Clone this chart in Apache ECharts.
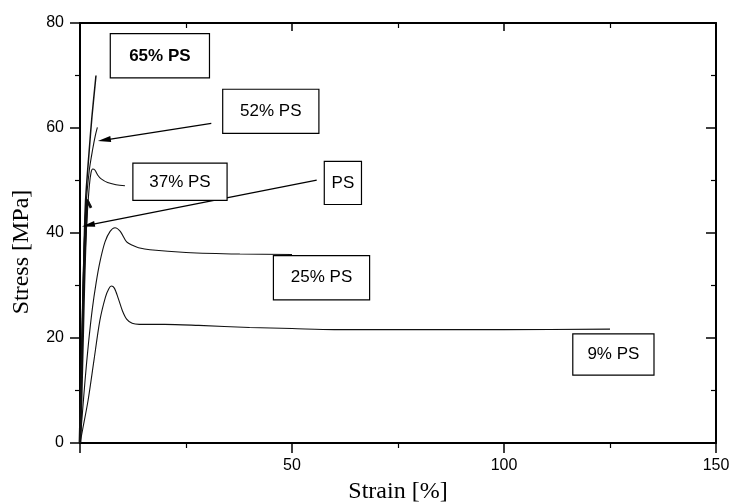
<!DOCTYPE html>
<html>
<head>
<meta charset="utf-8">
<script src="https://cdn.jsdelivr.net/npm/echarts@6/dist/echarts.min.js"></script>
<style>
html,body{margin:0;padding:0;background:#fff;}
#chart{width:732px;height:504px;}
</style>
</head>
<body>
<div id="chart"></div>
<script>
// ---- Data (strain [%], stress [MPa]) ----
const strain9  = [0, 0.6, 1.9, 3.3, 4.7, 6.0, 6.8, 7.4, 8.1, 9.0, 10.0, 11.0, 12.3, 14.0, 20, 28, 40, 50, 60, 80, 100, 125];
const stress9  = [0, 2.5, 8.1, 15.8, 23.4, 27.8, 29.4, 29.9, 29.5, 27.6, 25.2, 23.6, 22.8, 22.6, 22.6, 22.4, 22.0, 21.8, 21.6, 21.6, 21.6, 21.7];

const strain25 = [0, 0.5, 1.2, 2.0, 2.9, 3.8, 4.7, 5.9, 7.1, 8.25, 9.5, 11.0, 12.5, 13.8, 16.5, 25, 37.7, 50];
const stress25 = [0, 5.0, 12.0, 19.0, 25.5, 30.5, 34.5, 38.3, 40.3, 41.0, 40.3, 38.3, 37.6, 37.2, 36.8, 36.3, 36.0, 35.9];

const strain37 = [0, 0.5, 1.0, 1.6, 2.2, 2.6, 3.0, 3.5, 4.2, 5.0, 6.5, 8.5, 10.6];
const stress37 = [0, 18, 32, 42, 49, 51.5, 52.2, 52.0, 51.0, 50.3, 49.6, 49.2, 49.0];

const strainPS = [0, 0.3, 0.6, 0.9, 1.2, 1.5, 1.72, 2.1, 2.6];
const stressPS = [0, 10, 20, 30, 38, 44, 46.2, 45.6, 44.8];

const strain52 = [0, 0.5, 0.9, 1.4, 2.2, 3.0, 3.6, 4.1];
const stress52 = [0, 20, 35, 45, 52, 56, 58.5, 60.1];

const strain65 = [0, 0.5, 0.9, 1.3, 2.2, 2.8, 3.77];
const stress65 = [0, 20, 35, 46, 56, 62, 70];

// ---- Annotation labels (anchored in data coordinates) ----
const noteText   = ['65% PS', '52% PS', '37% PS', 'PS', '25% PS', '9% PS'];
const noteStrain = [18.84, 45.0, 23.58, 62.0, 56.96, 125.8];
const noteStress = [73.75, 63.17, 49.75, 49.54, 31.49, 16.85];

// arrows: from -> to
const arrowFromStrain = [30.97, 55.83];
const arrowFromStress = [60.88, 50.07];
const arrowToStrain   = [5.73, 1.96];
const arrowToStress   = [57.70, 41.49];

const xTicks = [0, 50, 100, 150];
const yTicks = [0, 20, 40, 60, 80];

function pairs(xs, ys) { return xs.map((x, i) => [x, ys[i]]); }

const boxSizes = [[98, 43], [95, 43], [93, 36], [36, 42], [95, 43], [80, 40]];

const chart = echarts.init(document.getElementById('chart'), null, {renderer: 'canvas'});

const sansFont = "'Liberation Sans', Arial, sans-serif";
const serifFont = "'Liberation Serif', 'Times New Roman', serif";

function lineSeries(name, data, width) {
  return {
    name: name,
    type: 'line',
    data: data,
    showSymbol: false,
    symbol: 'none',
    smooth: 0.3,
    lineStyle: {color: '#111', width: width},
    xAxisIndex: 0,
    yAxisIndex: 0,
    z: 3
  };
}

const option = {
  animation: false,
  backgroundColor: '#fff',
  grid: {left: 80, right: 16, top: 23, bottom: 61, containLabel: false, outerBoundsMode: 'none'},
  xAxis: [
    {
      type: 'value', min: xTicks[0], max: xTicks[xTicks.length - 1], interval: 50,
      position: 'bottom',
      name: 'Strain [%]', nameLocation: 'middle', nameGap: 37,
      nameTextStyle: {fontFamily: serifFont, fontSize: 24, color: '#000'},
      axisLine: {show: true, onZero: false, lineStyle: {color: '#000', width: 2}},
      axisTick: {show: true, inside: false, length: 10, lineStyle: {color: '#000', width: 1.5}},
      minorTick: {show: true, splitNumber: 2, length: 5, lineStyle: {color: '#000', width: 1.2}},
      axisLabel: {show: true, margin: 15, fontFamily: sansFont, fontSize: 16, color: '#000',
        formatter: v => (v === 0 ? '' : String(v))},
      splitLine: {show: false}
    },
    {
      type: 'value', min: xTicks[0], max: xTicks[xTicks.length - 1], interval: 50,
      position: 'top',
      axisLine: {show: true, onZero: false, lineStyle: {color: '#000', width: 2}},
      axisTick: {show: true, inside: true, length: 8, lineStyle: {color: '#000', width: 1.5}},
      minorTick: {show: true, splitNumber: 2, length: 5, lineStyle: {color: '#000', width: 1.2}},
      axisLabel: {show: false},
      splitLine: {show: false}
    }
  ],
  yAxis: [
    {
      type: 'value', min: yTicks[0], max: yTicks[yTicks.length - 1], interval: 20,
      position: 'left',
      name: 'Stress [MPa]', nameLocation: 'middle', nameGap: 46, nameRotate: 90,
      nameTextStyle: {fontFamily: serifFont, fontSize: 24, color: '#000', padding: [0, 38, 0, 0]},
      axisLine: {show: true, onZero: false, lineStyle: {color: '#000', width: 2}},
      axisTick: {show: true, inside: false, length: 10, lineStyle: {color: '#000', width: 1.5}},
      minorTick: {show: true, splitNumber: 2, length: 5, lineStyle: {color: '#000', width: 1.2}},
      axisLabel: {show: true, margin: 16, fontFamily: sansFont, fontSize: 16, color: '#000'},
      splitLine: {show: false}
    },
    {
      type: 'value', min: yTicks[0], max: yTicks[yTicks.length - 1], interval: 20,
      position: 'right',
      axisLine: {show: true, onZero: false, lineStyle: {color: '#000', width: 2}},
      axisTick: {show: true, inside: true, length: 10, lineStyle: {color: '#000', width: 1.5}},
      minorTick: {show: true, splitNumber: 2, length: 5, lineStyle: {color: '#000', width: 1.2}},
      axisLabel: {show: false},
      splitLine: {show: false}
    }
  ],
  series: [
    lineSeries('9% PS', pairs(strain9, stress9), 1.1),
    lineSeries('25% PS', pairs(strain25, stress25), 1.1),
    lineSeries('37% PS', pairs(strain37, stress37), 1.1),
    lineSeries('PS', pairs(strainPS, stressPS), 2.8),
    lineSeries('52% PS', pairs(strain52, stress52), 1.1),
    lineSeries('65% PS', pairs(strain65, stress65), 1.5),
    {
      name: 'annotations',
      type: 'line',
      data: [],
      xAxisIndex: 0, yAxisIndex: 0,
      z: 5,
      markLine: {
        silent: true,
        animation: false,
        symbol: ['none', 'triangle'],
        symbolSize: [6, 13],
        lineStyle: {color: '#000', width: 1.3, type: 'solid'},
        label: {show: false},
        data: arrowFromStrain.map((s, i) => [
          {coord: [s, arrowFromStress[i]]},
          {coord: [arrowToStrain[i], arrowToStress[i]]}
        ])
      },
      markPoint: {
        silent: true,
        animation: false,
        symbol: 'rect',
        symbolSize: 1,
        itemStyle: {color: 'rgba(0,0,0,0)'},
        data: noteText.map((t, i) => ({
          coord: [noteStrain[i], noteStress[i]],
          label: {
            show: true,
            position: 'inside',
            formatter: t,
            fontFamily: sansFont,
            fontSize: 17,
            fontWeight: i === 0 ? 'bold' : 'normal',
            color: '#000',
            backgroundColor: '#fff',
            borderColor: '#000',
            borderWidth: 1.2,
            padding: 0,
            width: boxSizes[i][0],
            height: boxSizes[i][1],
            lineHeight: boxSizes[i][1],
            align: 'center',
            verticalAlign: 'middle'
          }
        }))
      }
    }
  ]
};

chart.setOption(option);
</script>
</body>
</html>
